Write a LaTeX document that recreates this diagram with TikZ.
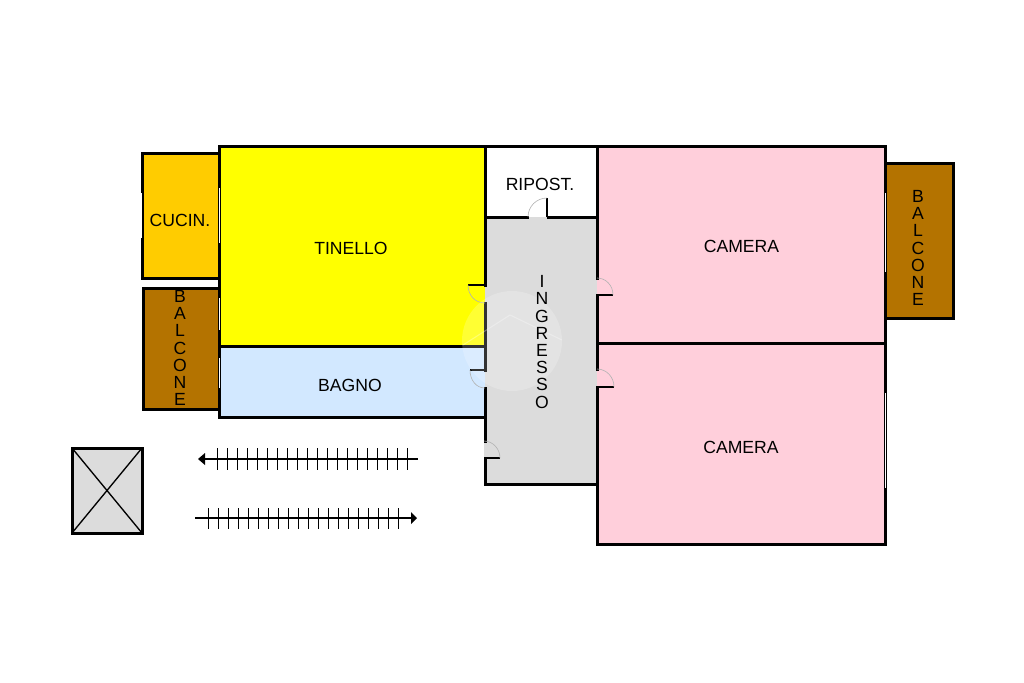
\documentclass[tikz,border=0pt]{standalone}
\usepackage{fontspec}
\setmainfont{Liberation Sans}
\definecolor{tinello}{HTML}{FFFF00}
\definecolor{bagno}{HTML}{D2E8FF}
\definecolor{cam}{HTML}{FFCFDB}
\definecolor{hall}{HTML}{DCDCDC}
\definecolor{cucina}{HTML}{FFCC00}
\definecolor{balc}{HTML}{B47300}
\tikzset{
  wall/.style={line width=2.25pt,line cap=rect},
  leaf/.style={line width=0.9pt},
  swing/.style={line width=0.45pt,draw=gray!60},
  glass/.style={line width=0.5pt,draw=white},
  stairline/.style={line width=1.3pt},
  tread/.style={line width=0.75pt},
  lbl/.style={inner sep=0pt,font=\fontsize{13.2}{13}\selectfont},
  vlbl/.style={inner sep=0pt,align=center,font=\fontsize{13.2}{12.9}\selectfont},
}
\begin{document}
\begin{tikzpicture}[x=0.75pt,y=-0.75pt]
\useasboundingbox (0,0) rectangle (1024,682);
\fill[white] (0,0) rectangle (1024,682);
% room fills
\fill[tinello] (219,146) rectangle (485,346);
\fill[bagno] (219,346) rectangle (485,417);
\fill[white] (485,146) rectangle (597,217);
\fill[hall] (485,217) rectangle (597,484);
\fill[cam] (597,146) rectangle (885,343);
\fill[cam] (597,343) rectangle (885,544);
% balconies and kitchen
\draw[wall,fill=cucina] (219,153) -- (142,153) -- (142,278) -- (219,278);
\draw[wall,fill=balc] (219,288) -- (143,288) -- (143,409) -- (219,409);
\draw[wall,fill=balc] (885,163) -- (953,163) -- (953,318) -- (885,318);
% door swing areas
\fill[tinello] (468,285) rectangle (485,303);
\fill[bagno] (470,370) rectangle (485,388);
\fill[cam] (597,278) rectangle (613,295);
\fill[cam] (597,369) rectangle (614,387);
\fill[hall] (484,441) rectangle (500,458);
% walls
\draw[wall] (219,146) -- (885,146) -- (885,544) -- (597,544);
\draw[wall] (219,146) -- (219,417) -- (485,417);
\draw[wall] (219,346) -- (485,346);
\draw[wall] (597,343) -- (885,343);
\draw[wall] (485,146) -- (485,285);
\draw[wall] (485,303) -- (485,370);
\draw[wall] (485,388) -- (485,441);
\draw[wall] (485,458) -- (485,484) -- (597,484);
\draw[wall] (485,217) -- (527,217);
\draw[wall] (548,217) -- (597,217);
\draw[wall] (597,146) -- (597,278);
\draw[wall] (597,295) -- (597,369);
\draw[wall] (597,387) -- (597,544);
% doors
\draw[leaf] (547,217) -- (547,198);
\draw[swing] (547,198) .. controls (536.5,198) and (528,206.5) .. (528,217);
\draw[leaf] (485,285) -- (468,285);
\draw[swing] (468,285) .. controls (468,295) and (475,303) .. (485,303);
\draw[leaf] (485,370) -- (470,370);
\draw[swing] (470,370) .. controls (470,380) and (476,388) .. (485,388);
\draw[leaf] (597,295) -- (613,295);
\draw[swing] (597,278) .. controls (606,278) and (613,285.5) .. (613,295);
\draw[leaf] (597,387) -- (614,387);
\draw[swing] (597,369) .. controls (606.5,369) and (614,377) .. (614,387);
\draw[leaf] (484,458) -- (500,458);
\draw[swing] (484,441) .. controls (493,441) and (500,449) .. (500,458);
% windows
\draw[glass] (141.5,193) -- (141.5,238);
\draw[glass] (219.5,188) -- (219.5,243);
\draw[glass] (219.5,298) -- (219.5,330);
\draw[glass] (219.5,358) -- (219.5,388);
\draw[glass] (885,193) -- (885,272);
\draw[glass] (885,393) -- (885,488);
% lift shaft
\draw[wall,fill=hall] (72,448) rectangle (142,533);
\draw[line width=1pt] (72,448) -- (142,533);
\draw[line width=1pt] (142,448) -- (72,533);
% stairs
\draw[stairline] (203,459) -- (418,459);
\fill (198,459) -- (205,453) -- (205,465) -- cycle;
\foreach \i in {0,...,19} \draw[tread] ({217+10*\i},448) -- ({217+10*\i},470);
\draw[stairline] (195,518) -- (412,518);
\fill (417,518) -- (411,512) -- (411,524) -- cycle;
\foreach \i in {0,...,19} \draw[tread] ({208+10*\i},508) -- ({208+10*\i},529);
% labels
\node[lbl] (cucin) at (180,220) {CUCIN.};
\node[lbl] (tin) at (351,248.5) {TINELLO};
\node[lbl] (bag) at (350,385.5) {BAGNO};
\node[lbl] (rip) at (540,184.5) {RIPOST.};
\node[lbl] (cam1) at (741.5,246.5) {CAMERA};
\node[lbl] (cam2) at (741,447.5) {CAMERA};
\node[vlbl] (balL) at (180,348) {B\\A\\L\\C\\O\\N\\E};
\node[vlbl] (balR) at (918,248) {B\\A\\L\\C\\O\\N\\E};
% watermark
\fill[white,opacity=0.2] (512,341) circle[radius=50];
\draw[white,opacity=0.3,line width=0.8pt] (463,345) -- (510,315) -- (562,340);
\node[vlbl] (ing) at (542,342) {I\\N\\G\\R\\E\\S\\S\\O};
\end{tikzpicture}
\end{document}
